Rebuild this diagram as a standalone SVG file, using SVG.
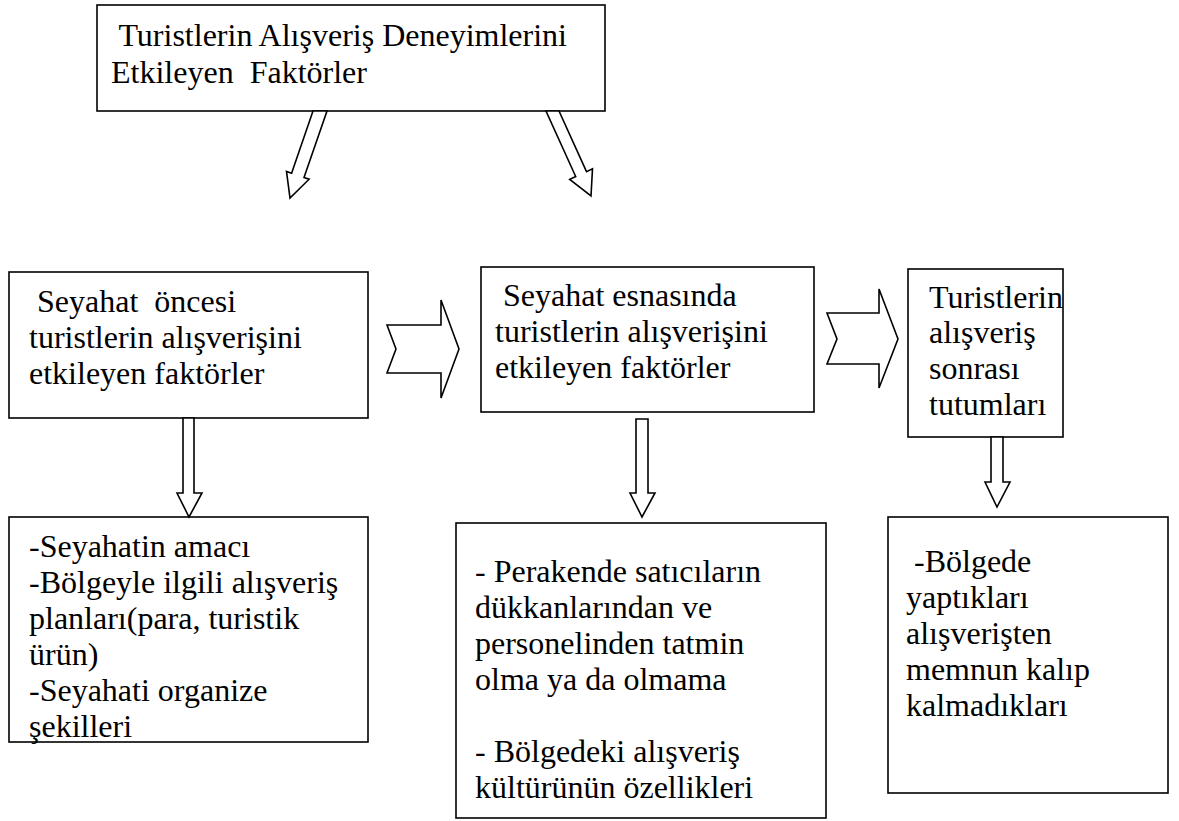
<svg xmlns="http://www.w3.org/2000/svg" width="1179" height="821" viewBox="0 0 1179 821">
<style>
.box{fill:#fff;stroke:#000;stroke-width:1.6}
.arr{fill:#fff;stroke:#000;stroke-width:1.6;stroke-linejoin:miter}
text{font-family:'Liberation Serif','Times New Roman',serif;font-size:32px;fill:#000}
</style>
<rect width="1179" height="821" fill="#fff"/>
<g id="top">
<rect class="box" x="97" y="5" width="508" height="106"/>
<text xml:space="preserve" x="111" y="46"> Turistlerin Alışveriş Deneyimlerini</text>
<text xml:space="preserve" x="111" y="83">Etkileyen  Faktörler</text>
</g>
<g id="before">
<rect class="box" x="9" y="272" width="359" height="146"/>
<text xml:space="preserve" x="29" y="312"> Seyahat  öncesi</text>
<text x="29" y="348">turistlerin alışverişini</text>
<text x="29" y="384">etkileyen faktörler</text>
</g>
<g id="during">
<rect class="box" x="481" y="267" width="333" height="145"/>
<text xml:space="preserve" x="495" y="306"> Seyahat esnasında</text>
<text x="495" y="342">turistlerin alışverişini</text>
<text x="495" y="378">etkileyen faktörler</text>
</g>
<g id="after">
<rect class="box" x="908" y="269" width="155" height="168"/>
<text x="929" y="308">Turistlerin</text>
<text x="929" y="343">alışveriş</text>
<text x="929" y="379">sonrası</text>
<text x="929" y="415">tutumları</text>
</g>
<g id="before-list">
<rect class="box" x="9" y="517" width="359" height="225"/>
<text x="29" y="557">-Seyahatin amacı</text>
<text x="29" y="593">-Bölgeyle ilgili alışveriş</text>
<text x="29" y="629">planları(para, turistik</text>
<text x="29" y="665">ürün)</text>
<text x="29" y="701">-Seyahati organize</text>
<text x="29" y="737">şekilleri</text>
</g>
<g id="during-list">
<rect class="box" x="456" y="523" width="370" height="295"/>
<text x="475" y="582">- Perakende satıcıların</text>
<text x="475" y="618">dükkanlarından ve</text>
<text x="475" y="654">personelinden tatmin</text>
<text x="475" y="690">olma ya da olmama</text>
<text x="475" y="762">- Bölgedeki alışveriş</text>
<text x="475" y="798">kültürünün özellikleri</text>
</g>
<g id="after-list">
<rect class="box" x="888" y="517" width="280" height="276"/>
<text xml:space="preserve" x="906" y="572"> -Bölgede</text>
<text x="906" y="608">yaptıkları</text>
<text x="906" y="644">alışverişten</text>
<text x="906" y="680">memnun kalıp</text>
<text x="906" y="716">kalmadıkları</text>
</g>
<g id="connectors">
<polygon class="arr" points="313,111 327,111 304,177.5 309.1,179.2 290,198 286.5,171.4 291.6,173.2"/>
<polygon class="arr" points="546,111 559,111 586.5,171.7 592.5,168.9 591,196 569.7,179.3 575.7,176.5"/>
<polygon class="arr" points="387,325 441,325 441,300 459,349 441,398 441,373 387,373 396,349"/>
<polygon class="arr" points="827,313 879,313 879,289 898,339 879,388 879,364 827,364 837,339"/>
<polygon class="arr" points="183,418 194,418 194,493 202,493 189,517 177,493 183,493"/>
<polygon class="arr" points="636,419 648,419 648,493 655,493 642,517 630,493 636,493"/>
<polygon class="arr" points="991,437 1003,437 1003,482 1010,482 997,507 985,482 991,482"/>
</g>
</svg>
